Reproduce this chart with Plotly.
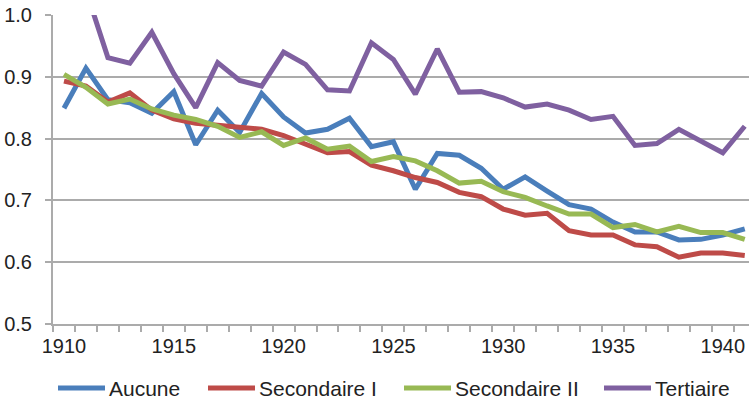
import plotly.graph_objects as go

# ---- data -------------------------------------------------------------
years = list(range(1910, 1942))

series_names = ["Aucune", "Secondaire I", "Secondaire II", "Tertiaire"]

aucune = [0.849, 0.914, 0.863, 0.858, 0.841, 0.876, 0.790, 0.846, 0.810, 0.873,
          0.835, 0.809, 0.815, 0.833, 0.787, 0.795, 0.718, 0.776, 0.773, 0.752,
          0.718, 0.738, 0.715, 0.693, 0.686, 0.665, 0.649, 0.649, 0.636, 0.637,
          0.644, 0.654]

secondaire_1 = [0.893, 0.885, 0.859, 0.874, 0.846, 0.832, 0.825, 0.822, 0.818, 0.815,
                0.805, 0.790, 0.777, 0.779, 0.757, 0.748, 0.737, 0.729, 0.713, 0.706,
                0.686, 0.676, 0.679, 0.651, 0.644, 0.644, 0.628, 0.625, 0.608, 0.615,
                0.615, 0.611]

secondaire_2 = [0.904, 0.883, 0.856, 0.864, 0.848, 0.838, 0.831, 0.820, 0.802, 0.811,
                0.789, 0.801, 0.783, 0.788, 0.763, 0.771, 0.764, 0.748, 0.728, 0.731,
                0.714, 0.705, 0.691, 0.678, 0.678, 0.656, 0.661, 0.649, 0.658, 0.648,
                0.648, 0.637]

tertiaire = [1.070, 1.040, 0.931, 0.922, 0.972, 0.905, 0.850, 0.923, 0.894, 0.885,
             0.940, 0.920, 0.879, 0.877, 0.955, 0.928, 0.872, 0.945, 0.875, 0.876,
             0.866, 0.851, 0.856, 0.846, 0.831, 0.836, 0.789, 0.792, 0.815, 0.795,
             0.777, 0.820]

x_tick_labels = [1910, 1915, 1920, 1925, 1930, 1935, 1940]
y_tick_values = [0.5, 0.6, 0.7, 0.8, 0.9, 1.0]

# ---- styling ------------------------------------------------------------
colors = ["#4A7EBB", "#BE4B48", "#98B954", "#7F60A0"]
grid_gray = "#ABABAB"
text_color = "#222222"
font_family = "Liberation Sans, Arial, sans-serif"

W, H = 749, 405
L, R, T, B = 53, 0, 15, 81
plot_w = W - L - R
plot_h = H - T - B
px_per_year = 21.96
x_lo = years[0] - 0.5
x_hi = x_lo + plot_w / px_per_year

fig = go.Figure()
for name, vals, col in zip(series_names,
                           [aucune, secondaire_1, secondaire_2, tertiaire],
                           colors):
    fig.add_trace(go.Scatter(
        x=years, y=vals, mode="lines", name=name,
        line=dict(color=col, width=5),
        showlegend=False,
    ))

fig.update_xaxes(
    range=[x_lo, x_hi],
    tickmode="array",
    tickvals=x_tick_labels,
    ticktext=[str(v) for v in x_tick_labels],
    ticks="outside", ticklen=6, tickcolor="rgba(0,0,0,0)",
    minor=dict(
        tickmode="array",
        tickvals=[y - 0.5 for y in years] + [years[-1] + 0.5],
        ticks="outside", ticklen=6, tickwidth=1.5, tickcolor=grid_gray,
        showgrid=False,
    ),
    showgrid=False, zeroline=False,
    showline=True, linecolor=grid_gray, linewidth=2,
    tickfont=dict(family=font_family, size=20, color=text_color),
    ticklabelstandoff=-3,
)

fig.update_yaxes(
    range=[0.5, 1.0],
    tickmode="array",
    tickvals=y_tick_values,
    ticktext=[f"{v:.1f}" for v in y_tick_values],
    ticks="outside", ticklen=6, tickwidth=1.5, tickcolor=grid_gray,
    showgrid=True, gridcolor=grid_gray, gridwidth=1.6,
    zeroline=False,
    showline=True, linecolor=grid_gray, linewidth=2,
    tickfont=dict(family=font_family, size=20, color=text_color),
    ticklabelstandoff=9,
)

# ---- legend drawn below the plot area ---------------------------------
def to_paper_x(px):
    return (px - L) / plot_w


def to_paper_y(py):
    return (H - B - py) / plot_h


legend_left = [58, 208, 404, 604]
legend_y = 388
sample_len = 47
shapes, annotations = [], []
for name, col, x0 in zip(series_names, colors, legend_left):
    shapes.append(dict(
        type="line", xref="paper", yref="paper",
        x0=to_paper_x(x0), x1=to_paper_x(x0 + sample_len),
        y0=to_paper_y(legend_y), y1=to_paper_y(legend_y),
        line=dict(color=col, width=5),
    ))
    annotations.append(dict(
        xref="paper", yref="paper",
        x=to_paper_x(x0 + sample_len + 2), y=to_paper_y(legend_y),
        xanchor="left", yanchor="middle", showarrow=False,
        text=name,
        font=dict(family=font_family, size=21, color=text_color),
    ))

fig.update_layout(
    width=W, height=H,
    margin=dict(l=L, r=R, t=T, b=B),
    paper_bgcolor="white", plot_bgcolor="white",
    showlegend=False,
    shapes=shapes,
    annotations=annotations,
)

fig.write_html("out.html")
